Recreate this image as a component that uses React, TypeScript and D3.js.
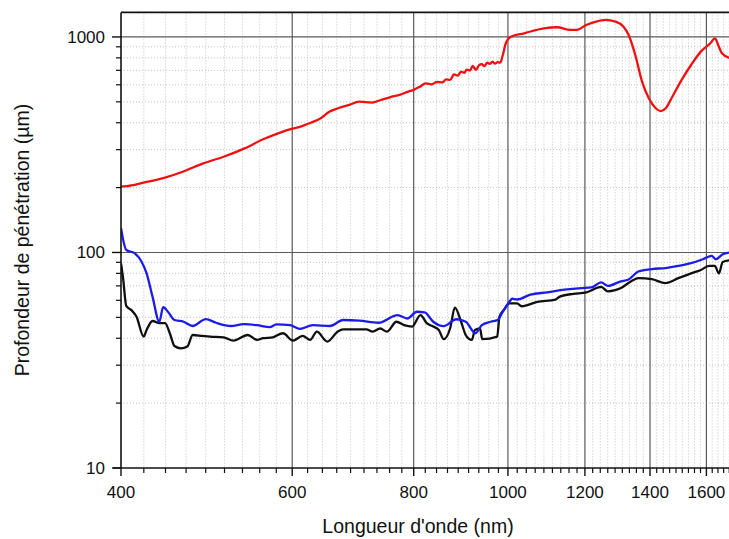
import React from "react";
import * as d3 from "d3";

const redWl = [400, 405, 422, 443, 463, 486, 510, 536, 560, 587, 616, 627, 642, 655, 670, 687, 703, 725, 740, 756, 775, 790, 799, 812, 823, 835, 845, 856, 864, 872, 880, 888, 895, 902, 907, 914, 920, 927, 934, 940, 946, 952, 958, 964, 970, 976, 982, 988, 995, 1007, 1039, 1089, 1124, 1159, 1177, 1204, 1232, 1260, 1290, 1315, 1331, 1352, 1374, 1396, 1419, 1436, 1453, 1476, 1509, 1543, 1579, 1615, 1633, 1645, 1660, 1690];
const redVal = [202, 203, 211, 222, 237, 259, 278, 304, 335, 364, 388, 400, 420, 450, 468, 484, 501, 496, 510, 525, 540, 558, 567, 588, 609, 603, 618, 615, 635, 632, 670, 662, 690, 682, 706, 698, 734, 704, 740, 748, 732, 760, 750, 768, 752, 764, 760, 825, 935, 1003, 1040, 1097, 1109, 1078, 1078, 1137, 1178, 1199, 1178, 1116, 1022, 825, 620, 519, 467, 453, 467, 528, 632, 741, 855, 935, 986, 918, 840, 800];

const blueWl = [400, 405, 413, 420, 425, 431, 438, 442, 447, 454, 464, 474, 489, 501, 519, 535, 552, 569, 578, 597, 611, 630, 656, 677, 703, 736, 770, 788, 806, 821, 838, 859, 885, 905, 926, 940, 960, 976, 988, 1004, 1010, 1022, 1055, 1098, 1143, 1190, 1218, 1247, 1267, 1307, 1329, 1362, 1406, 1452, 1497, 1543, 1587, 1620, 1636, 1663, 1690];
const blueVal = [129.5, 102.7, 99.3, 90.6, 80, 62.4, 47.7, 55.7, 53.1, 48.6, 47.7, 45.6, 49.1, 47.2, 45.6, 46.5, 46, 45, 46.4, 46, 44.2, 46, 45.6, 48.6, 48.3, 47.2, 51.2, 49.4, 53.1, 52.7, 47.7, 45.5, 49, 47.7, 42.2, 46, 47.7, 48.6, 53.1, 59.2, 61, 60.5, 63.8, 65.3, 67.2, 68.4, 68.8, 72.6, 70, 73.5, 74.7, 81.6, 83.8, 84.7, 86.6, 89.2, 93, 96.4, 93, 98.1, 100];

const blackWl = [400, 402, 405, 410, 415, 422, 425, 431, 438, 444, 449, 454, 461, 468, 474, 485, 494, 510, 522, 540, 552, 560, 573, 587, 601, 615, 626, 636, 652, 668, 677, 715, 726, 739, 751, 768, 782, 797, 813, 825, 838, 849, 859, 872, 882, 895, 905, 918, 925, 936, 941, 975, 980, 990, 1004, 1022, 1033, 1072, 1119, 1132, 1168, 1204, 1247, 1267, 1307, 1339, 1362, 1406, 1452, 1497, 1543, 1577, 1610, 1632, 1648, 1663, 1690];
const blackVal = [89, 75.9, 56.5, 54, 50.3, 40.7, 43.7, 48.1, 47, 47, 42.2, 36.8, 35.9, 36.6, 41.4, 41, 40.7, 40.4, 39, 41.4, 39.3, 40, 40.4, 42.2, 39, 41, 39.3, 42.9, 38.6, 42.9, 44, 44, 42.9, 44.4, 42.9, 47.7, 46, 45.3, 51.2, 47, 45.3, 43.7, 39.6, 44.4, 55.5, 47.7, 41.4, 39.3, 43.7, 44.4, 39.6, 40.7, 50.3, 54, 58, 58, 56.3, 59, 60.5, 62.6, 64.3, 65.3, 69.3, 66, 68.4, 73.5, 76, 75.2, 72.1, 76, 80, 82.7, 86.6, 86.6, 80, 90.4, 92];

const xMajor = [400, 600, 800, 1000, 1200, 1400, 1600, 1800];
const yMajor = [10, 100, 1000];
const xLabels = ["400", "600", "800", "1000", "1200", "1400", "1600"];
const yLabels = ["10", "100", "1000"];
const xTitle = "Longueur d'onde (nm)";
const yTitle = "Profondeur de pénétration (µm)";

const W = 729;
const H = 539;
const L = 121;
const B = 468;
const T = 12.4;
const R = 732;

export default function App() {
  const x = d3.scaleLog().domain([400, 1700]).range([L, R]);
  const y = d3.scaleLog().domain([10, 1300]).range([B, T]);

  const xMinor: number[] = [];
  for (let i = 0; i < xMajor.length - 1; i++) {
    const a = xMajor[i];
    const b = xMajor[i + 1];
    for (let k = 1; k <= 8; k++) xMinor.push(a + ((b - a) * k) / 9);
  }
  const xMinorVis = xMinor.filter((v) => x(v) < W + 2);
  const yMinor: number[] = [];
  for (const d of [10, 100]) for (let k = 2; k <= 9; k++) yMinor.push(d * k);

  const line = (wl: number[], vals: number[]) =>
    d3
      .line<number>()
      .x((_, i) => x(wl[i]))
      .y((v) => y(v))
      .curve(d3.curveMonotoneX)(vals) || "";

  const font = "'Liberation Sans', Arial, sans-serif";

  return (
    <svg
      width={W}
      height={H}
      style={{ position: "absolute", left: 0, top: 0, background: "#fff" }}
      fontFamily={font}
    >
      <defs>
        <clipPath id="plot">
          <rect x={L} y={T} width={R - L} height={B - T} />
        </clipPath>
      </defs>
      {xMinorVis.map((v, i) => (
        <line key={"xm" + i} x1={x(v)} x2={x(v)} y1={T} y2={B} stroke="#b4b4b4" strokeWidth={0.8} strokeDasharray="1,2" />
      ))}
      {yMinor.map((v, i) => (
        <line key={"ym" + i} x1={L} x2={W} y1={y(v)} y2={y(v)} stroke="#b4b4b4" strokeWidth={0.8} strokeDasharray="1,2" />
      ))}
      {xMajor.slice(1).filter((v) => x(v) < W).map((v, i) => (
        <line key={"xg" + i} x1={x(v)} x2={x(v)} y1={T} y2={B} stroke="#5a5a5a" strokeWidth={1.2} />
      ))}
      {[100, 1000].map((v, i) => (
        <line key={"yg" + i} x1={L} x2={W} y1={y(v)} y2={y(v)} stroke="#5a5a5a" strokeWidth={1.2} />
      ))}
      <g clipPath="url(#plot)" fill="none" strokeWidth={2.3} strokeLinejoin="round">
        <path d={line(redWl, redVal)} stroke="#f01010" />
        <path d={line(blackWl, blackVal)} stroke="#101010" />
        <path d={line(blueWl, blueVal)} stroke="#1c1ce8" />
      </g>
      <line x1={L} x2={W} y1={T} y2={T} stroke="#111" strokeWidth={1.6} />
      <line x1={L} x2={L} y1={T} y2={B} stroke="#111" strokeWidth={1.6} />
      <line x1={L - 8} x2={W} y1={B} y2={B} stroke="#111" strokeWidth={1.6} />
      {xMajor.filter((v) => x(v) < W).map((v, i) => (
        <line key={"xt" + i} x1={x(v)} x2={x(v)} y1={B} y2={B + 8} stroke="#111" strokeWidth={1.4} />
      ))}
      {xMinorVis.map((v, i) => (
        <line key={"xtm" + i} x1={x(v)} x2={x(v)} y1={B} y2={B + 5} stroke="#111" strokeWidth={1.2} />
      ))}
      {xLabels.map((t, i) => (
        <text key={"xl" + i} x={x(+t)} y={B + 30} fontSize={17} textAnchor="middle" fill="#111">
          {t}
        </text>
      ))}
      {yMajor.map((v, i) => (
        <line key={"yt" + i} x1={L - 9} x2={L} y1={y(v)} y2={y(v)} stroke="#111" strokeWidth={1.4} />
      ))}
      {yMinor.map((v, i) => (
        <line key={"ytm" + i} x1={L - 5} x2={L} y1={y(v)} y2={y(v)} stroke="#111" strokeWidth={1.2} />
      ))}
      {yLabels.map((t, i) => (
        <text key={"yl" + i} x={105} y={y(+t) + 6} fontSize={17} textAnchor="end" fill="#111">
          {t}
        </text>
      ))}
      <text x={418} y={533} fontSize={19.5} textAnchor="middle" fill="#111">
        {xTitle}
      </text>
      <text transform="translate(29,240) rotate(-90)" fontSize={19.5} textAnchor="middle" fill="#111">
        {yTitle}
      </text>
    </svg>
  );
}
